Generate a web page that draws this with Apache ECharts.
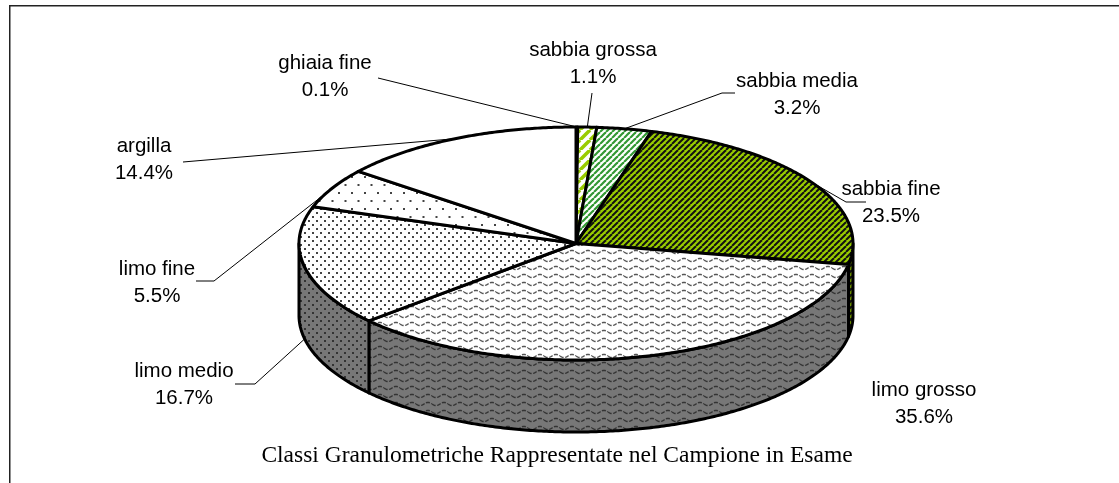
<!DOCTYPE html>
<html><head><meta charset="utf-8">
<style>html,body{margin:0;padding:0;background:#fff}#c{width:1119px;height:483px}</style>
<script src="https://cdn.jsdelivr.net/npm/echarts@6/dist/echarts.min.js"></script>
</head><body><div id="c"></div>
<script>
const categories = ['ghiaia fine','sabbia grossa','sabbia media','sabbia fine','limo grosso','limo medio','limo fine','argilla'];
const values = [0.1,1.1,3.2,23.5,35.6,16.7,5.5,14.4];
const chartTitle = 'Classi Granulometriche Rappresentate nel Campione in Esame';

// layout (not data)
const W=1119, H=483;
const CX=576, CY=243.5, RX=277, RY=116.5, DEPTH=72;
const labelPos = [[325,77],[593,64],[797,95],[891,203],[924,404],[184,385],[157,283],[144,160]];
const leaderStart = [[[378,78]],[[592,93]],[[735,93],[722,93]],[[866,202],[846,202]],null,[[235,384],[255,384]],[[196,281],[214,281]],[[183,162]]];

// pattern sheets: a small tile repeated over a canvas the size of the chart
function tile(w,h,bg,draw){const c=document.createElement('canvas');c.width=w;c.height=h;const g=c.getContext('2d');
  if(bg){g.fillStyle=bg;g.fillRect(0,0,w,h);} draw(g,w,h);
  const s=document.createElement('canvas');s.width=W;s.height=H;const sg=s.getContext('2d');
  sg.fillStyle=sg.createPattern(c,'repeat');sg.fillRect(0,0,W,H);return s;}
function stripes(period,fg,bg,width){return tile(period,period,bg,(g,w,h)=>{g.strokeStyle=fg;g.lineWidth=width;
  for(let k=-1;k<=1;k++){g.beginPath();g.moveTo(k*w,h);g.lineTo(k*w+w,0);g.stroke();}});}
function dots(w,h,color,size,bg){return tile(w,h,bg,(g)=>{g.fillStyle=color;g.fillRect(0,0,size,size);g.fillRect(w/2,h/2,size,size);});}
function waves(color,bg){return tile(16,8,bg,(g,w,h)=>{g.strokeStyle=color;g.lineWidth=1.4;g.setLineDash([4,1.5]);g.beginPath();
  for(let x=0;x<=16;x+=1){const y=4+1.6*Math.sin(x/16*2*Math.PI);x?g.lineTo(x,y):g.moveTo(x,y);}g.stroke();});}
const plain=c=>tile(2,2,c,()=>{});

const topFills = [
  dots(2,4,'#cc33cc',1,'#fff'),
  stripes(10,'#99cc00','#fff',3.5),
  stripes(6,'#339933','#fff',2.2),
  stripes(6,'#111','#99cc00',2),
  waves('#555','#fff'),
  dots(8,8,'#444',2,'#fff'),
  dots(13,16,'#444',2,'#fff'),
  plain('#fff')
];
const sideFills = [
  plain('#666'),plain('#6c8a00'),plain('#2a7a2a'),
  stripes(6,'#111','#6c8f00',2),
  waves('#333','#777'),
  dots(8,8,'#333',2,'#777'),
  dots(13,16,'#333',2,'#777'),
  plain('#777')
];

const total = values.reduce((a,b)=>a+b,0);
const starts=[]; let acc=0; values.forEach(v=>{starts.push(acc);acc+=v;});
const ang = p => p/total*2*Math.PI;
const rim = (t,dy=0) => [CX+RX*Math.sin(t), CY-RY*Math.cos(t)+dy];
function arc(t1,t2,dy){const n=Math.max(2,Math.ceil((t2-t1)/0.01));const out=[];
  for(let i=0;i<=n;i++) out.push(rim(t1+(t2-t1)*i/n,dy));return out;}

function patterned(pts,sheet){return {type:'group',children:[
  {type:'image',style:{image:sheet,x:0,y:0,width:W,height:H},clipPath:{type:'polygon',shape:{points:pts}}},
  {type:'polygon',shape:{points:pts},style:{fill:null,stroke:'#000',lineWidth:3,lineJoin:'round',lineCap:'round'}}
]};}
function renderTop(params,api){const i=params.dataIndex,v=api.value(0);
  return patterned([[CX,CY],...arc(ang(starts[i]),ang(starts[i]+v),0)],topFills[i]);}
function renderSide(params,api){const i=params.dataIndex,v=api.value(0);
  const t1=Math.max(ang(starts[i]),Math.PI/2),t2=Math.min(ang(starts[i]+v),Math.PI*1.5);
  if(t2<=t1) return null;
  return patterned([...arc(t1,t2,0),...arc(t1,t2,DEPTH).reverse()],sideFills[i]);}
function renderLeader(params,api){const i=params.dataIndex,v=api.value(0);
  if(!leaderStart[i]) return null;
  const t=ang(starts[i]+v/2);
  const end=rim(t,(t>Math.PI/2&&t<Math.PI*1.5)?DEPTH:0);
  return {type:'polyline',shape:{points:[...leaderStart[i],end]},style:{fill:null,stroke:'#000',lineWidth:1}};}
function renderLabel(params,api){const i=params.dataIndex,v=api.value(0);
  return {type:'text',x:labelPos[i][0],y:labelPos[i][1],style:{text:categories[i]+'\n'+v.toFixed(1)+'%',
    fill:'#000',font:'20.5px "Liberation Sans"',lineHeight:27,align:'center',verticalAlign:'middle'}};}

const mk=(fn,z)=>({type:'custom',coordinateSystem:'none',renderItem:fn,data:values,z,animation:false,silent:true,clip:false});
const chart=echarts.init(document.getElementById('c'),null,{renderer:'canvas'});
chart.setOption({
  animation:false,backgroundColor:'#fff',
  title:{text:chartTitle,left:557,top:444,textAlign:'center',padding:0,
    textStyle:{fontFamily:'Liberation Serif',fontSize:23.5,fontWeight:'normal',color:'#000'}},
  graphic:[{type:'polyline',z:1,shape:{points:[[9.75,483],[9.75,5.75],[1119,5.75]]},style:{fill:null,stroke:'#222',lineWidth:1.5}}],
  series:[mk(renderLeader,2),mk(renderSide,3),mk(renderTop,4),mk(renderLabel,5)]
});
</script></body></html>
